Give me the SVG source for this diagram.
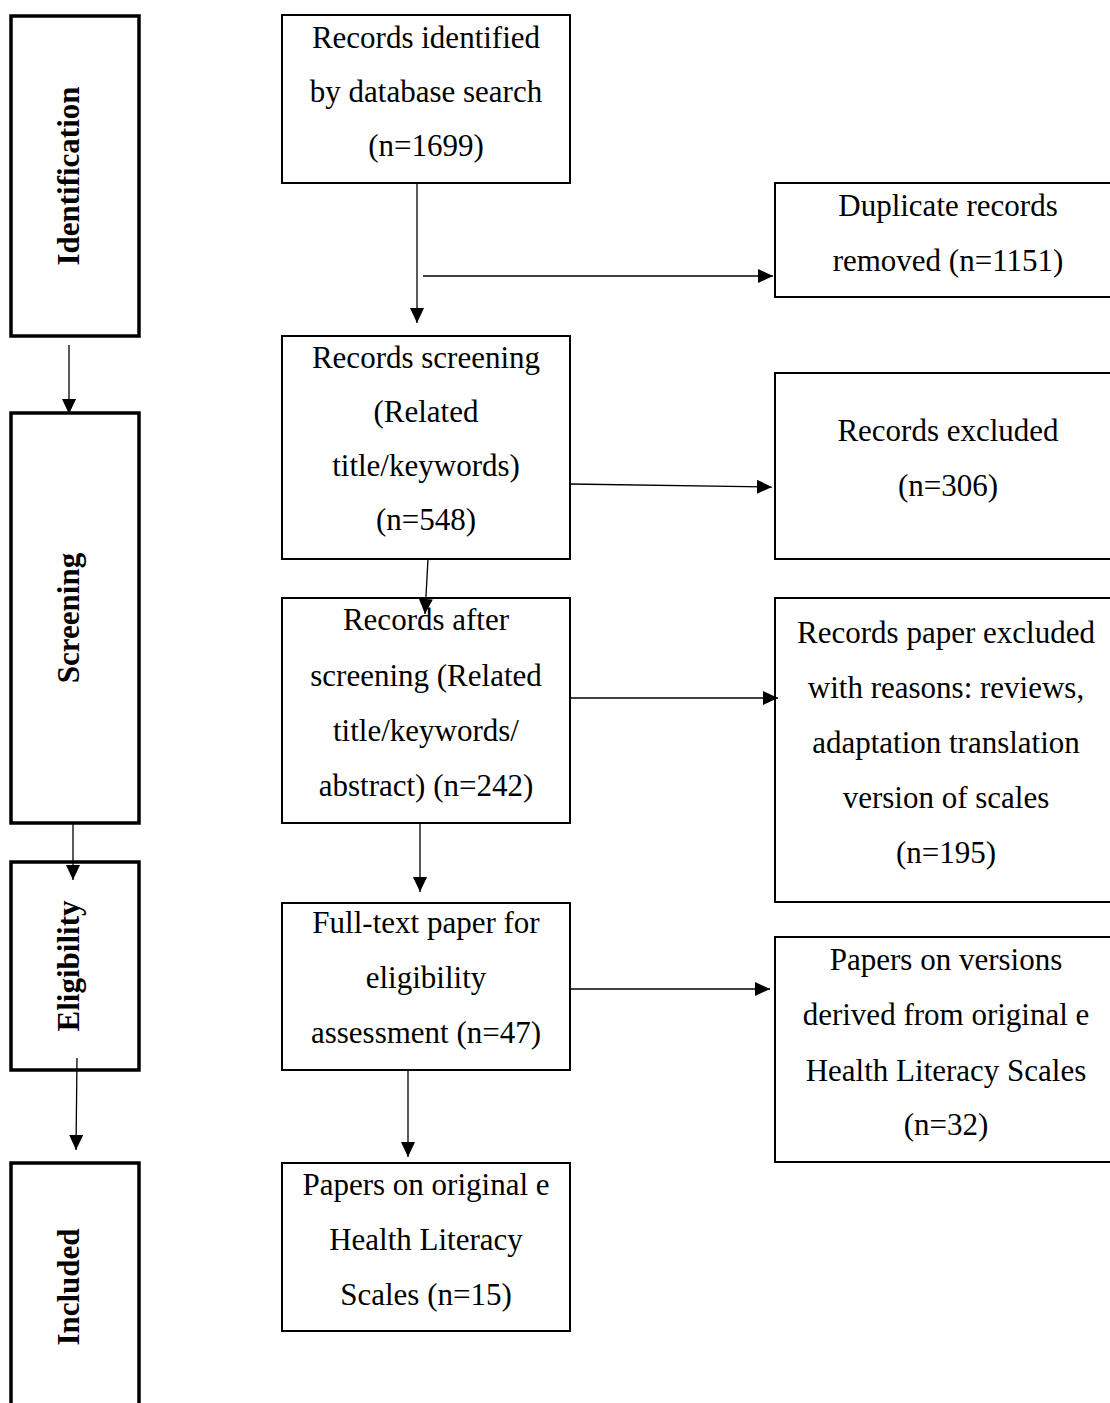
<svg xmlns="http://www.w3.org/2000/svg" width="1110" height="1403" viewBox="0 0 1110 1403">
<style>
.stage{fill:#fff;stroke:#000;stroke-width:3.5}
.box{fill:#fff;stroke:#000;stroke-width:2}
.t{font-family:"Liberation Serif","Times New Roman",serif;font-size:31px;fill:#000;text-anchor:middle}
.st{font-family:"Liberation Serif","Times New Roman",serif;font-size:31px;font-weight:bold;fill:#000;text-anchor:middle}
.c{stroke:#000;stroke-width:1.3;fill:none;marker-end:url(#ah)}
</style>
<defs>
<marker id="ah" markerUnits="userSpaceOnUse" markerWidth="16" markerHeight="14" refX="15" refY="7" orient="auto">
<path d="M0,0 L15,7 L0,14 z" fill="#000"/>
</marker>
</defs>
<rect width="1110" height="1403" fill="#fff"/>
<g id="stage-identification">
<rect class="stage" x="11" y="16" width="128" height="320"/>
<text class="st" transform="translate(79,176) rotate(-90)">Identification</text>
</g>
<g id="stage-screening">
<rect class="stage" x="11" y="413" width="128" height="410"/>
<text class="st" transform="translate(79,618) rotate(-90)">Screening</text>
</g>
<g id="stage-eligibility">
<rect class="stage" x="11" y="862" width="128" height="208"/>
<text class="st" transform="translate(79,966) rotate(-90)">Eligibility</text>
</g>
<g id="stage-included">
<rect class="stage" x="11" y="1163" width="128" height="260"/>
<text class="st" transform="translate(79,1287) rotate(-90)">Included</text>
</g>
<g id="n-identified">
<rect class="box" x="282" y="15" width="288" height="168"/>
<text class="t" x="426" y="48">Records identified</text>
<text class="t" x="426" y="102">by database search</text>
<text class="t" x="426" y="156">(n=1699)</text>
</g>
<g id="n-duplicates">
<rect class="box" x="775" y="183" width="340" height="114"/>
<text class="t" x="948" y="216">Duplicate records</text>
<text class="t" x="948" y="271">removed (n=1151)</text>
</g>
<g id="n-screening">
<rect class="box" x="282" y="336" width="288" height="223"/>
<text class="t" x="426" y="368">Records screening</text>
<text class="t" x="426" y="422">(Related</text>
<text class="t" x="426" y="476">title/keywords)</text>
<text class="t" x="426" y="530">(n=548)</text>
</g>
<g id="n-excluded">
<rect class="box" x="775" y="373" width="340" height="186"/>
<text class="t" x="948" y="441">Records excluded</text>
<text class="t" x="948" y="496">(n=306)</text>
</g>
<g id="n-after-screening">
<rect class="box" x="282" y="598" width="288" height="225"/>
<text class="t" x="426" y="630">Records after</text>
<text class="t" x="426" y="686">screening (Related</text>
<text class="t" x="426" y="741">title/keywords/</text>
<text class="t" x="426" y="796">abstract) (n=242)</text>
</g>
<g id="n-paper-excluded">
<rect class="box" x="775" y="598" width="340" height="304"/>
<text class="t" x="946" y="643">Records paper excluded</text>
<text class="t" x="946" y="698">with reasons: reviews,</text>
<text class="t" x="946" y="753">adaptation translation</text>
<text class="t" x="946" y="808">version of scales</text>
<text class="t" x="946" y="863">(n=195)</text>
</g>
<g id="n-fulltext">
<rect class="box" x="282" y="903" width="288" height="167"/>
<text class="t" x="426" y="933">Full-text paper for</text>
<text class="t" x="426" y="988">eligibility</text>
<text class="t" x="426" y="1043">assessment (n=47)</text>
</g>
<g id="n-versions">
<rect class="box" x="775" y="937" width="340" height="225"/>
<text class="t" x="946" y="970">Papers on versions</text>
<text class="t" x="946" y="1025">derived from original e</text>
<text class="t" x="946" y="1081">Health Literacy Scales</text>
<text class="t" x="946" y="1135">(n=32)</text>
</g>
<g id="n-original">
<rect class="box" x="282" y="1163" width="288" height="168"/>
<text class="t" x="426" y="1195">Papers on original e</text>
<text class="t" x="426" y="1250">Health Literacy</text>
<text class="t" x="426" y="1305">Scales (n=15)</text>
</g>
<g id="connectors">
<line class="c" x1="69" y1="345" x2="69" y2="414"/>
<line class="c" x1="73" y1="823" x2="73" y2="880"/>
<line class="c" x1="77" y1="1058" x2="76" y2="1150"/>
<line class="c" x1="417" y1="183" x2="417" y2="323"/>
<line class="c" x1="423" y1="276" x2="773" y2="276"/>
<line class="c" x1="570" y1="484" x2="772" y2="487"/>
<line class="c" x1="428" y1="559" x2="425" y2="614"/>
<line class="c" x1="570" y1="698" x2="778" y2="698"/>
<line class="c" x1="420" y1="823" x2="420" y2="892"/>
<line class="c" x1="570" y1="989" x2="770" y2="989"/>
<line class="c" x1="408" y1="1070" x2="408" y2="1157"/>
</g>
</svg>
